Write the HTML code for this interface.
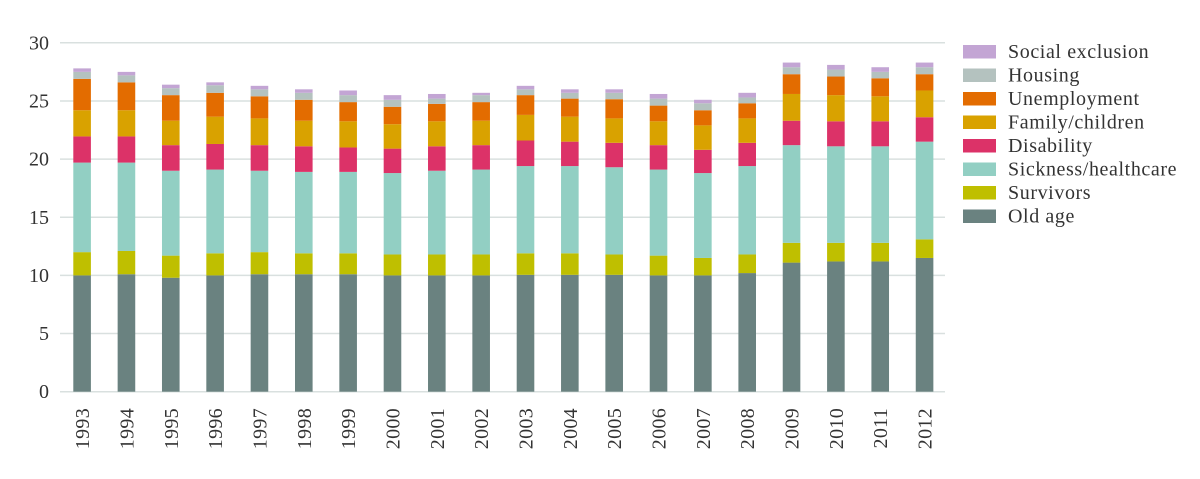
<!DOCTYPE html>
<html><head><meta charset="utf-8"><style>
html,body{margin:0;padding:0;background:#fff;}
svg{display:block;font-family:"Liberation Serif",serif;}
</style></head><body>
<svg id="chart" width="1200" height="479" viewBox="0 0 1200 479" xmlns="http://www.w3.org/2000/svg">
<g id="grid"></g>
<g id="yaxis"></g>
<g id="bars"></g>
<g id="xaxis"></g>
<g id="legend"></g>
</svg>
<script>
const years = ["1993","1994","1995","1996","1997","1998","1999","2000","2001","2002","2003","2004","2005","2006","2007","2008","2009","2010","2011","2012"];
const seriesNames = ["Old age","Survivors","Sickness/healthcare","Disability","Family/children","Unemployment","Housing","Social exclusion"];
const seriesColors = ["#6a8280","#bfbf00","#92cfc3","#dc3268","#d9a200","#e36c00","#b4c2bf","#c3a5d4"];
const oldAge = [10.0,10.1,9.8,10.0,10.1,10.1,10.1,10.0,10.0,10.0,10.05,10.05,10.05,10.0,10.0,10.2,11.1,11.2,11.2,11.5];
const survivors = [2.0,2.0,1.9,1.9,1.9,1.8,1.8,1.8,1.8,1.8,1.85,1.85,1.75,1.7,1.5,1.6,1.7,1.6,1.6,1.6];
const sickness = [7.7,7.6,7.3,7.2,7.0,7.0,7.0,7.0,7.2,7.3,7.5,7.5,7.5,7.4,7.3,7.6,8.4,8.3,8.3,8.4];
const disability = [2.25,2.25,2.2,2.2,2.2,2.2,2.1,2.1,2.1,2.1,2.2,2.1,2.1,2.1,2.0,2.0,2.1,2.15,2.15,2.1];
const family = [2.25,2.25,2.1,2.35,2.3,2.2,2.25,2.1,2.15,2.1,2.2,2.15,2.1,2.05,2.1,2.1,2.3,2.25,2.15,2.3];
const unemployment = [2.7,2.4,2.2,2.05,1.9,1.8,1.65,1.5,1.5,1.6,1.7,1.55,1.65,1.35,1.3,1.3,1.7,1.6,1.55,1.4];
const housing = [0.6,0.6,0.6,0.65,0.6,0.6,0.6,0.6,0.45,0.6,0.5,0.5,0.55,0.6,0.6,0.5,0.6,0.6,0.55,0.6];
const socialExclusion = [0.3,0.3,0.3,0.25,0.3,0.3,0.4,0.4,0.4,0.2,0.3,0.3,0.3,0.4,0.3,0.4,0.4,0.4,0.4,0.4];
const yTicks = [0,5,10,15,20,25,30];

const series = [oldAge,survivors,sickness,disability,family,unemployment,housing,socialExclusion];
const NS="http://www.w3.org/2000/svg";
const x0=60, x1=945, y0=391.7, pxPerUnit=11.63;
const yScale = v => y0 - v*pxPerUnit;
const barStart=73.3, step=44.34, barW=17.6;
const xScale = i => barStart + i*step;
function mk(tag, attrs, parent){const e=document.createElementNS(NS,tag);for(const k in attrs)e.setAttribute(k,attrs[k]);parent.appendChild(e);return e;}

const grid=document.getElementById('grid'), yax=document.getElementById('yaxis');
yTicks.forEach(t=>{
  const l=mk('line',{x1:x0,x2:x1,y1:yScale(t),y2:yScale(t),stroke:'#d9e0df','stroke-width':1.5},grid);
  
  
  const tx=mk('text',{x:49,y:yScale(t)+6.5,'text-anchor':'end','font-size':20,fill:'#333'},yax);
  tx.textContent=t;
  
  
});

const bars=document.getElementById('bars'), xax=document.getElementById('xaxis');
years.forEach((yr,i)=>{
  let cum=0;
  series.forEach((s,k)=>{
    const v=s[i];
    const r=mk('rect',{x:xScale(i),y:yScale(cum+v),width:barW,height:v*pxPerUnit,fill:seriesColors[k]},bars);
    
    
    cum+=v;
  });
  const cx=xScale(i)+barW/2+7;
  const t=mk('text',{x:cx,y:408,'text-anchor':'end','font-size':20,'letter-spacing':0.3,fill:'#333',transform:`rotate(-90 ${cx} 408)`},xax);
  t.textContent=yr;
  
  
});

const leg=document.getElementById('legend');
for(let j=0;j<8;j++){
  const k=7-j;
  const y=45+j*23.5;
  const sw=mk('rect',{x:963,y:y,width:33,height:13.5,fill:seriesColors[k]},leg);
  
  
  const t=mk('text',{x:1008,y:y+13,'font-size':20,'letter-spacing':0.6,fill:'#333'},leg);
  t.textContent=seriesNames[k];
  
  
}
</script>
</body></html>
